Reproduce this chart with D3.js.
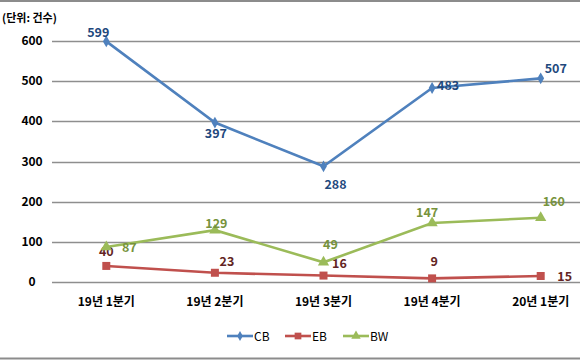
<!DOCTYPE html>
<html>
<head>
<meta charset="utf-8">
<script src="https://cdn.jsdelivr.net/npm/d3@7"></script>
<style>
  body { margin: 0; background: #fff; }
  svg { display: block; font-family: "Noto Sans CJK KR", "Noto Sans", sans-serif; }
  .tick-label { font-size: 12px; font-weight: bold; fill: #000; }
  .value { font-size: 12.5px; font-weight: bold; }
  .legend text { font-size: 12px; fill: #000; }
</style>
</head>
<body>
<svg width="580" height="360"></svg>
<script>
// data
const quarters = ['19년 1분기', '19년 2분기', '19년 3분기', '19년 4분기', '20년 1분기']
const cbValues = [599, 397, 288, 483, 507]
const ebValues = [40, 23, 16, 9, 15]
const bwValues = [87, 129, 49, 147, 160]
const yTicks = [0, 100, 200, 300, 400, 500, 600]

// label offsets (dx, dy) relative to each point, matching the picture
const series = [
  { name: 'CB', values: cbValues, color: '#4F81BD', text: '#1F497D', shape: d3.symbolDiamond, size: 40,
    offsets: [[-8, -4], [1, 15], [12, 23], [16, 2], [15, -5]] },
  { name: 'EB', values: ebValues, color: '#C0504D', text: '#632523', shape: d3.symbolSquare, size: 64,
    offsets: [[0, -9.5], [12, -7], [16, -7.5], [2, -12], [24, 5]] },
  { name: 'BW', values: bwValues, color: '#9BBB59', text: '#77933C', shape: d3.symbolTriangle, size: 55,
    offsets: [[23, 4.5], [1.5, -2], [7, -13], [-5, -5.5], [13, -12]] }
]

const svg = d3.select('svg')

// outer frame lines (top and bottom)
svg.append('line').attr('x1', 0).attr('x2', 580).attr('y1', 1).attr('y2', 1)
  .style('stroke', '#8c8c8c').style('stroke-width', 2)
svg.append('line').attr('x1', 0).attr('x2', 580).attr('y1', 358.5).attr('y2', 358.5)
  .style('stroke', '#8c8c8c').style('stroke-width', 2)

const x = d3.scaleBand()
  .domain(quarters)
  .range([52, 595])

const y = d3.scaleLinear()
  .domain([0, 600])
  .range([282, 41])

// gridlines
svg.append('g')
  .selectAll('line')
  .data(yTicks)
  .enter()
  .append('line')
  .attr('x1', 52)
  .attr('x2', 580)
  .attr('y1', d => Math.round(y(d)) + 0.5)
  .attr('y2', d => Math.round(y(d)) + 0.5)
  .style('stroke', '#8e8e8e')
  .style('stroke-width', 1.3)

// y tick labels
svg.append('g')
  .selectAll('text')
  .data(yTicks)
  .enter()
  .append('text')
  .attr('class', 'tick-label')
  .attr('x', 32)
  .attr('y', d => y(d) + 4)
  .attr('text-anchor', 'middle')
  .text(d => d)

// x tick labels
svg.append('g')
  .selectAll('text')
  .data(quarters)
  .enter()
  .append('text')
  .attr('class', 'tick-label')
  .attr('x', d => x(d) + x.bandwidth() / 2)
  .attr('y', 306)
  .attr('text-anchor', 'middle')
  .text(d => d)

// unit label
svg.append('text')
  .attr('x', 2)
  .attr('y', 22)
  .style('font-size', '11px')
  .style('font-weight', 'bold')
  .text('(단위: 건수)')

const cx = i => x(quarters[i]) + x.bandwidth() / 2

const line = d3.line()
  .x((d, i) => cx(i))
  .y(d => y(d))

series.forEach(s => {
  const g = svg.append('g')

  g.append('path')
    .datum(s.values)
    .attr('d', line)
    .style('fill', 'none')
    .style('stroke', s.color)
    .style('stroke-width', 2.6)

  g.selectAll('path.marker')
    .data(s.values)
    .enter()
    .append('path')
    .attr('class', 'marker')
    .attr('transform', (d, i) => `translate(${cx(i)}, ${y(d)})`)
    .attr('d', d3.symbol().type(s.shape).size(s.size))
    .style('fill', s.color)

  g.selectAll('text')
    .data(s.values)
    .enter()
    .append('text')
    .attr('class', 'value')
    .attr('x', (d, i) => cx(i) + s.offsets[i][0])
    .attr('y', (d, i) => y(d) + s.offsets[i][1])
    .attr('text-anchor', 'middle')
    .style('fill', s.text)
    .text(d => d)
})

// legend
const legend = svg.append('g')
  .attr('class', 'legend')
  .selectAll('g')
  .data(series)
  .enter()
  .append('g')
  .attr('transform', (d, i) => `translate(${227 + i * 58}, 336)`)

legend.append('line')
  .attr('x1', 0).attr('x2', 26)
  .style('stroke', d => d.color)
  .style('stroke-width', 2.6)

legend.append('path')
  .attr('transform', 'translate(13, 0)')
  .attr('d', d => d3.symbol().type(d.shape).size(d.size * 0.7)())
  .style('fill', d => d.color)

legend.append('text')
  .attr('x', 27)
  .attr('y', 4.5)
  .text(d => d.name)
</script>
</body>
</html>
